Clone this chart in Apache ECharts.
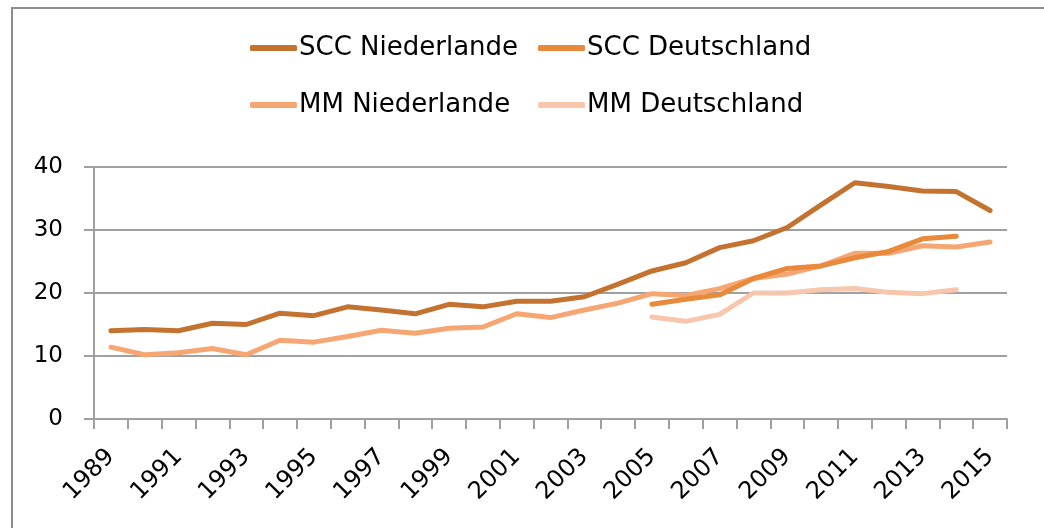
<!DOCTYPE html>
<html>
<head>
<meta charset="utf-8">
<script src="https://cdn.jsdelivr.net/npm/echarts@6/dist/echarts.min.js"></script>
<style>html,body{margin:0;padding:0;background:#fff}#c{width:1044px;height:528px}</style>
</head>
<body>
<div id="c"></div>
<script>
var years = ['1989','1990','1991','1992','1993','1994','1995','1996','1997','1998','1999','2000','2001','2002','2003','2004','2005','2006','2007','2008','2009','2010','2011','2012','2013','2014','2015'];
var sccNiederlande = [14.0,14.2,14.0,15.2,15.0,16.8,16.4,17.8,17.3,16.7,18.2,17.8,18.7,18.7,19.4,21.4,23.5,24.8,27.2,28.3,30.4,34.0,37.5,36.9,36.2,36.1,33.1];
var sccDeutschland = [null,null,null,null,null,null,null,null,null,null,null,null,null,null,null,null,18.2,19.0,19.7,22.3,23.9,24.3,25.6,26.6,28.6,29.0,null];
var mmNiederlande = [11.4,10.2,10.5,11.2,10.2,12.5,12.2,13.1,14.1,13.6,14.4,14.6,16.7,16.1,17.3,18.4,19.9,19.6,20.7,22.3,23.0,24.3,26.3,26.3,27.5,27.3,28.1];
var mmDeutschland = [null,null,null,null,null,null,null,null,null,null,null,null,null,null,null,null,16.2,15.5,16.6,20.0,20.0,20.5,20.7,20.1,19.9,20.5,null];
var yTicks = [0,10,20,30,40];

var names = ['SCC Niederlande','SCC Deutschland','MM Niederlande','MM Deutschland'];
var colors = ['#C4722F','#E8893B','#F6A672','#F7C6AD'];
var datas = [sccNiederlande, sccDeutschland, mmNiederlande, mmDeutschland];
var font = 'DejaVu Sans';

var chart = echarts.init(document.getElementById('c'));
var legendPos = [[250,35],[538,35],[250,92],[538,92]];
var legends = names.map(function(n,i){
  return {
    data:[n], left:legendPos[i][0], top:legendPos[i][1], padding:0,
    icon:'roundRect', itemWidth:47, itemHeight:6, itemGap:0,
    textStyle:{fontFamily:font, fontSize:26, color:'#000', padding:[0,0,0,-3]},
    selectedMode:false
  };
});
chart.setOption({
  animation:false,
  graphic:[{type:'rect', shape:{x:12,y:8,width:1200,height:700}, style:{fill:'none', stroke:'#8c8c8c', lineWidth:2}, z:-1}],
  legend: legends,
  grid:{left:94, right:37, top:167, bottom:109, containLabel:false},
  xAxis:{
    type:'category', data:years, boundaryGap:true,
    axisLine:{lineStyle:{color:'#a0a0a0', width:2}},
    axisTick:{show:true, interval:0, length:10, lineStyle:{color:'#a0a0a0', width:2}},
    axisLabel:{interval:1, rotate:45, fontFamily:font, fontSize:24, color:'#000', margin:34}
  },
  yAxis:{
    type:'value', min:yTicks[0], max:yTicks[yTicks.length-1], interval:10,
    axisLine:{show:true, lineStyle:{color:'#a0a0a0', width:2}},
    axisTick:{show:true, length:10, lineStyle:{color:'#a0a0a0', width:2}},
    splitLine:{lineStyle:{color:'#a0a0a0', width:2}},
    axisLabel:{fontFamily:font, fontSize:23, color:'#000', margin:31}
  },
  series: names.map(function(n,i){
    return {name:n, type:'line', data:datas[i], showSymbol:false, symbol:'none',
      lineStyle:{color:colors[i], width:5, cap:'round', join:'round'}, itemStyle:{color:colors[i]}, z:10-i};
  })
});
</script>
</body>
</html>
